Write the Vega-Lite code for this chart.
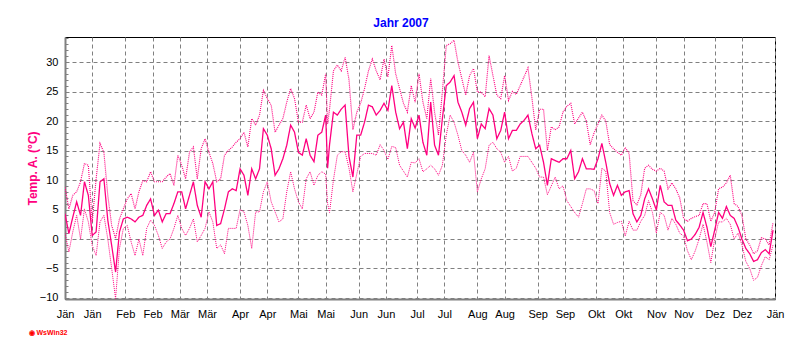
{
  "$schema": "https://vega.github.io/schema/vega-lite/v6.json",
  "width": 710,
  "height": 262,
  "autosize": "none",
  "padding": {"left": 65, "top": 37, "right": 25, "bottom": 51},
  "background": "white",
  "title": {"text": "Jahr 2007", "color": "#0000FF", "font": "Liberation Sans", "fontSize": 12, "fontWeight": "bold", "anchor": "middle", "dx": -19, "offset": 2},
  "data": {"values": [
    {"date": "2007-01-01", "mean": 4.3, "max": 8.8, "min": 1},
    {"date": "2007-01-03", "mean": 0.9, "max": 5.1, "min": -2.2},
    {"date": "2007-01-05", "mean": 3.7, "max": 7.4, "min": 1.2},
    {"date": "2007-01-07", "mean": 6.3, "max": 8.0, "min": 4},
    {"date": "2007-01-09", "mean": 4, "max": 9.7, "min": 0},
    {"date": "2007-01-11", "mean": 9.7, "max": 12.8, "min": 5.1},
    {"date": "2007-01-13", "mean": 7.4, "max": 12.5, "min": 2.9},
    {"date": "2007-01-15", "mean": 0.6, "max": 2.9, "min": -1.1},
    {"date": "2007-01-17", "mean": 1.2, "max": 10.2, "min": -2.8},
    {"date": "2007-01-19", "mean": 9.7, "max": 16.2, "min": 2.9},
    {"date": "2007-01-21", "mean": 10.2, "max": 14.7, "min": 4},
    {"date": "2007-01-23", "mean": 3.2, "max": 7.4, "min": 0},
    {"date": "2007-01-25", "mean": -1.1, "max": 2.3, "min": -5},
    {"date": "2007-01-27", "mean": -5.6, "max": 0.1, "min": -10.1},
    {"date": "2007-01-29", "mean": 1.2, "max": 3.4, "min": -1.6},
    {"date": "2007-01-31", "mean": 3.4, "max": 5.1, "min": 1.8},
    {"date": "2007-02-02", "mean": 3.7, "max": 6.8, "min": 2.3},
    {"date": "2007-02-04", "mean": 3.4, "max": 7.7, "min": -0.5},
    {"date": "2007-02-06", "mean": 2.9, "max": 5.1, "min": -2.8},
    {"date": "2007-02-08", "mean": 3.7, "max": 8, "min": 0},
    {"date": "2007-02-10", "mean": 4, "max": 9.9, "min": -2.8},
    {"date": "2007-02-12", "mean": 5.7, "max": 9.7, "min": 1.8},
    {"date": "2007-02-14", "mean": 6.8, "max": 11.4, "min": 3.2},
    {"date": "2007-02-16", "mean": 4, "max": 9.7, "min": 2.3},
    {"date": "2007-02-18", "mean": 4.9, "max": 9.7, "min": 0.6},
    {"date": "2007-02-20", "mean": 2.9, "max": 9.7, "min": -1.6},
    {"date": "2007-02-22", "mean": 4.3, "max": 10.5, "min": -0.5},
    {"date": "2007-02-24", "mean": 4.3, "max": 11.1, "min": 0},
    {"date": "2007-02-26", "mean": 6, "max": 9.1, "min": 1.8},
    {"date": "2007-02-28", "mean": 8, "max": 14.2, "min": 4},
    {"date": "2007-03-02", "mean": 8, "max": 12.5, "min": 1.8},
    {"date": "2007-03-04", "mean": 5.1, "max": 10.2, "min": 0.6},
    {"date": "2007-03-06", "mean": 7.4, "max": 14.7, "min": 1.8},
    {"date": "2007-03-08", "mean": 9.7, "max": 15.6, "min": 3.4},
    {"date": "2007-03-10", "mean": 5.7, "max": 10.2, "min": -0.5},
    {"date": "2007-03-12", "mean": 3.7, "max": 15.3, "min": 0.6},
    {"date": "2007-03-14", "mean": 9.7, "max": 17, "min": 1.8},
    {"date": "2007-03-16", "mean": 8.5, "max": 14.7, "min": 4.6},
    {"date": "2007-03-18", "mean": 9.7, "max": 12.8, "min": 2.9},
    {"date": "2007-03-20", "mean": 2.3, "max": 9.7, "min": -1.6},
    {"date": "2007-03-22", "mean": 2.6, "max": 10.2, "min": -1},
    {"date": "2007-03-24", "mean": 5.1, "max": 14.2, "min": -2.5},
    {"date": "2007-03-26", "mean": 8, "max": 15, "min": 1.8},
    {"date": "2007-03-28", "mean": 8.5, "max": 15.6, "min": 1.8},
    {"date": "2007-03-30", "mean": 8.2, "max": 16.4, "min": 1.8},
    {"date": "2007-04-01", "mean": 11.9, "max": 17, "min": 5},
    {"date": "2007-04-03", "mean": 10.8, "max": 18.1, "min": 4.6},
    {"date": "2007-04-05", "mean": 7.4, "max": 15.6, "min": 2.3},
    {"date": "2007-04-07", "mean": 11.9, "max": 20.4, "min": -1.6},
    {"date": "2007-04-09", "mean": 10.2, "max": 19.3, "min": 4.6},
    {"date": "2007-04-11", "mean": 11.9, "max": 21, "min": 4.6},
    {"date": "2007-04-13", "mean": 18.7, "max": 25.2, "min": 8},
    {"date": "2007-04-15", "mean": 17.6, "max": 23.8, "min": 9.7},
    {"date": "2007-04-17", "mean": 15.3, "max": 22.7, "min": 6.3},
    {"date": "2007-04-19", "mean": 10.8, "max": 18.1, "min": 4.6},
    {"date": "2007-04-21", "mean": 11.9, "max": 19.3, "min": 2.9},
    {"date": "2007-04-23", "mean": 13.6, "max": 20.4, "min": 3.4},
    {"date": "2007-04-25", "mean": 15.9, "max": 23.2, "min": 8},
    {"date": "2007-04-27", "mean": 19.3, "max": 25.5, "min": 11.4},
    {"date": "2007-04-29", "mean": 18.1, "max": 23.8, "min": 8.5},
    {"date": "2007-05-01", "mean": 14.7, "max": 19.8, "min": 6.3},
    {"date": "2007-05-03", "mean": 14.2, "max": 19.8, "min": 5.1},
    {"date": "2007-05-05", "mean": 17, "max": 22.7, "min": 10.2},
    {"date": "2007-05-07", "mean": 14.2, "max": 20.4, "min": 11.4},
    {"date": "2007-05-09", "mean": 13.1, "max": 21.5, "min": 9.1},
    {"date": "2007-05-11", "mean": 17.6, "max": 24.9, "min": 10.8},
    {"date": "2007-05-13", "mean": 18.1, "max": 24.4, "min": 11.4},
    {"date": "2007-05-15", "mean": 21, "max": 28, "min": 11},
    {"date": "2007-05-16", "mean": 12, "max": 19.5, "min": 6},
    {"date": "2007-05-17", "mean": 16, "max": 22, "min": 4.5},
    {"date": "2007-05-19", "mean": 21.5, "max": 28.5, "min": 10},
    {"date": "2007-05-21", "mean": 21, "max": 29.5, "min": 14.2},
    {"date": "2007-05-23", "mean": 22, "max": 28.5, "min": 14.8},
    {"date": "2007-05-25", "mean": 22.7, "max": 30.8, "min": 14.8},
    {"date": "2007-05-27", "mean": 14, "max": 27, "min": 12},
    {"date": "2007-05-29", "mean": 10.5, "max": 18.5, "min": 8},
    {"date": "2007-05-31", "mean": 17.6, "max": 21.5, "min": 11},
    {"date": "2007-06-02", "mean": 17.6, "max": 23, "min": 14},
    {"date": "2007-06-04", "mean": 19.8, "max": 25.5, "min": 14.5},
    {"date": "2007-06-06", "mean": 22.7, "max": 28.5, "min": 14.5},
    {"date": "2007-06-08", "mean": 22.4, "max": 30.5, "min": 14.5},
    {"date": "2007-06-10", "mean": 21, "max": 28.5, "min": 14.2},
    {"date": "2007-06-12", "mean": 21.8, "max": 27, "min": 16},
    {"date": "2007-06-14", "mean": 23, "max": 30.5, "min": 15},
    {"date": "2007-06-16", "mean": 21.8, "max": 27.5, "min": 13.5},
    {"date": "2007-06-18", "mean": 26, "max": 32.8, "min": 15.7},
    {"date": "2007-06-20", "mean": 21.5, "max": 28, "min": 15.5},
    {"date": "2007-06-22", "mean": 18.7, "max": 25.5, "min": 12.5},
    {"date": "2007-06-24", "mean": 19.8, "max": 23, "min": 11.5},
    {"date": "2007-06-26", "mean": 15.3, "max": 21.5, "min": 10.5},
    {"date": "2007-06-28", "mean": 20.4, "max": 26, "min": 13},
    {"date": "2007-06-30", "mean": 18.8, "max": 23.2, "min": 12.9},
    {"date": "2007-07-02", "mean": 21, "max": 28, "min": 13.6},
    {"date": "2007-07-04", "mean": 16.4, "max": 23.2, "min": 11.4},
    {"date": "2007-07-06", "mean": 14.2, "max": 20.4, "min": 11.9},
    {"date": "2007-07-08", "mean": 23.2, "max": 27.2, "min": 12.5},
    {"date": "2007-07-10", "mean": 15.9, "max": 21.5, "min": 11.9},
    {"date": "2007-07-12", "mean": 14.2, "max": 17.6, "min": 10.8},
    {"date": "2007-07-14", "mean": 20.4, "max": 25, "min": 12.5},
    {"date": "2007-07-16", "mean": 26, "max": 32.8, "min": 17.6},
    {"date": "2007-07-18", "mean": 26.6, "max": 33.1, "min": 21},
    {"date": "2007-07-20", "mean": 27.7, "max": 33.7, "min": 19.8},
    {"date": "2007-07-22", "mean": 23.2, "max": 30, "min": 17.6},
    {"date": "2007-07-24", "mean": 21.5, "max": 27.2, "min": 15},
    {"date": "2007-07-26", "mean": 19.3, "max": 24.4, "min": 14.2},
    {"date": "2007-07-28", "mean": 22.1, "max": 27.7, "min": 13},
    {"date": "2007-07-30", "mean": 23.2, "max": 28.9, "min": 14.7},
    {"date": "2007-08-01", "mean": 17, "max": 24.9, "min": 8},
    {"date": "2007-08-03", "mean": 19.5, "max": 24.9, "min": 10.2},
    {"date": "2007-08-05", "mean": 18.7, "max": 24.1, "min": 11.9},
    {"date": "2007-08-07", "mean": 22.1, "max": 31.1, "min": 15.9},
    {"date": "2007-08-09", "mean": 21, "max": 27.7, "min": 16.4},
    {"date": "2007-08-11", "mean": 17, "max": 24.4, "min": 15.3},
    {"date": "2007-08-13", "mean": 18.4, "max": 23.8, "min": 14.7},
    {"date": "2007-08-15", "mean": 21.5, "max": 27.7, "min": 13},
    {"date": "2007-08-17", "mean": 17, "max": 23.5, "min": 14},
    {"date": "2007-08-19", "mean": 18.4, "max": 25, "min": 11.5},
    {"date": "2007-08-21", "mean": 18.4, "max": 24.5, "min": 12},
    {"date": "2007-08-23", "mean": 19.5, "max": 26, "min": 14},
    {"date": "2007-08-25", "mean": 20.1, "max": 27.5, "min": 14},
    {"date": "2007-08-27", "mean": 21, "max": 29, "min": 14},
    {"date": "2007-08-29", "mean": 17.9, "max": 24, "min": 13},
    {"date": "2007-08-31", "mean": 15.3, "max": 18.5, "min": 12},
    {"date": "2007-09-02", "mean": 15.9, "max": 22, "min": 10.5},
    {"date": "2007-09-04", "mean": 13, "max": 22, "min": 10.5},
    {"date": "2007-09-06", "mean": 9.1, "max": 15, "min": 7.5},
    {"date": "2007-09-08", "mean": 13.6, "max": 19, "min": 9},
    {"date": "2007-09-10", "mean": 13.3, "max": 18.5, "min": 10.5},
    {"date": "2007-09-12", "mean": 13, "max": 19, "min": 8.5},
    {"date": "2007-09-14", "mean": 13.6, "max": 21.5, "min": 9},
    {"date": "2007-09-16", "mean": 13.6, "max": 22.5, "min": 6.5},
    {"date": "2007-09-18", "mean": 15, "max": 23, "min": 5.5},
    {"date": "2007-09-20", "mean": 10.2, "max": 19.5, "min": 4.5},
    {"date": "2007-09-22", "mean": 11.4, "max": 20.5, "min": 3.7},
    {"date": "2007-09-24", "mean": 13.6, "max": 21.5, "min": 6},
    {"date": "2007-09-26", "mean": 11.9, "max": 20, "min": 8.5},
    {"date": "2007-09-28", "mean": 11.9, "max": 16, "min": 8.5},
    {"date": "2007-09-30", "mean": 11.8, "max": 18, "min": 8.2},
    {"date": "2007-10-02", "mean": 13.6, "max": 19.5, "min": 6},
    {"date": "2007-10-04", "mean": 16.2, "max": 21, "min": 12},
    {"date": "2007-10-06", "mean": 13, "max": 20, "min": 11.5},
    {"date": "2007-10-08", "mean": 9.4, "max": 16, "min": 4.5},
    {"date": "2007-10-10", "mean": 7.4, "max": 15.3, "min": 2.5},
    {"date": "2007-10-12", "mean": 9.1, "max": 14.7, "min": 2.8},
    {"date": "2007-10-14", "mean": 7.4, "max": 14.2, "min": 3},
    {"date": "2007-10-16", "mean": 8, "max": 15.5, "min": 0.5},
    {"date": "2007-10-18", "mean": 8.2, "max": 14.5, "min": 3},
    {"date": "2007-10-20", "mean": 4.3, "max": 6.5, "min": 1.5},
    {"date": "2007-10-22", "mean": 2.9, "max": 5.8, "min": 1.5},
    {"date": "2007-10-24", "mean": 4, "max": 7.5, "min": 3},
    {"date": "2007-10-26", "mean": 6.8, "max": 12, "min": 4},
    {"date": "2007-10-28", "mean": 8.5, "max": 12.5, "min": 6.5},
    {"date": "2007-10-30", "mean": 6.8, "max": 11.8, "min": 4.5},
    {"date": "2007-11-01", "mean": 4.9, "max": 11.5, "min": 1},
    {"date": "2007-11-03", "mean": 9.1, "max": 12, "min": 4.5},
    {"date": "2007-11-05", "mean": 6.3, "max": 11.5, "min": 4},
    {"date": "2007-11-07", "mean": 5.7, "max": 8.5, "min": 1.5},
    {"date": "2007-11-09", "mean": 5.7, "max": 9.5, "min": 3.5},
    {"date": "2007-11-11", "mean": 3.2, "max": 8.5, "min": 2.5},
    {"date": "2007-11-13", "mean": 2.4, "max": 7, "min": 1},
    {"date": "2007-11-15", "mean": 1.5, "max": 3.5, "min": 0.5},
    {"date": "2007-11-17", "mean": -0.3, "max": 3, "min": -2},
    {"date": "2007-11-19", "mean": 0, "max": 3.5, "min": -3.5},
    {"date": "2007-11-21", "mean": 0.8, "max": 3.8, "min": -2},
    {"date": "2007-11-23", "mean": 2, "max": 4, "min": 0},
    {"date": "2007-11-25", "mean": 4.5, "max": 6, "min": 2.5},
    {"date": "2007-11-27", "mean": 2, "max": 6, "min": -0.5},
    {"date": "2007-11-29", "mean": -1.3, "max": 3, "min": -4},
    {"date": "2007-12-01", "mean": 1.5, "max": 4.5, "min": 0},
    {"date": "2007-12-03", "mean": 4.5, "max": 8.5, "min": 2.9},
    {"date": "2007-12-05", "mean": 3.5, "max": 8.8, "min": 2.9},
    {"date": "2007-12-07", "mean": 5.5, "max": 9.5, "min": 3.5},
    {"date": "2007-12-09", "mean": 4, "max": 10.8, "min": 2.5},
    {"date": "2007-12-11", "mean": 3.5, "max": 6, "min": 0},
    {"date": "2007-12-13", "mean": 2, "max": 5.5, "min": 1},
    {"date": "2007-12-15", "mean": 0, "max": 4, "min": -1},
    {"date": "2007-12-17", "mean": -1.6, "max": 0, "min": -3.8},
    {"date": "2007-12-19", "mean": -2.5, "max": -1, "min": -5},
    {"date": "2007-12-21", "mean": -3.8, "max": -2.5, "min": -7},
    {"date": "2007-12-23", "mean": -3.5, "max": -2, "min": -6.5},
    {"date": "2007-12-25", "mean": -2.3, "max": 0.2, "min": -4.5},
    {"date": "2007-12-27", "mean": -1.8, "max": 0, "min": -3},
    {"date": "2007-12-29", "mean": -2.5, "max": -1, "min": -3.5},
    {"date": "2007-12-31", "mean": 1.5, "max": 2.8, "min": -1}
  ]},
  "transform": [{"fold": ["mean", "max", "min"], "as": ["series", "value"]}],
  "mark": {"type": "line", "color": "#FF0080", "interpolate": "linear", "clip": true},
  "encoding": {
    "x": {
      "field": "date", "type": "temporal",
      "scale": {"type": "utc", "domain": [{"year": 2007, "month": 1, "date": 1, "utc": true}, {"year": 2008, "month": 1, "date": 1, "utc": true}]},
      "axis": {
        "values": [
          {"year": 2007, "month": 1, "date": 1, "utc": true}, {"year": 2007, "month": 1, "date": 15, "utc": true},
          {"year": 2007, "month": 2, "date": 1, "utc": true}, {"year": 2007, "month": 2, "date": 15, "utc": true},
          {"year": 2007, "month": 3, "date": 1, "utc": true}, {"year": 2007, "month": 3, "date": 15, "utc": true},
          {"year": 2007, "month": 4, "date": 1, "utc": true}, {"year": 2007, "month": 4, "date": 15, "utc": true},
          {"year": 2007, "month": 5, "date": 1, "utc": true}, {"year": 2007, "month": 5, "date": 15, "utc": true},
          {"year": 2007, "month": 6, "date": 1, "utc": true}, {"year": 2007, "month": 6, "date": 15, "utc": true},
          {"year": 2007, "month": 7, "date": 1, "utc": true}, {"year": 2007, "month": 7, "date": 15, "utc": true},
          {"year": 2007, "month": 8, "date": 1, "utc": true}, {"year": 2007, "month": 8, "date": 15, "utc": true},
          {"year": 2007, "month": 9, "date": 1, "utc": true}, {"year": 2007, "month": 9, "date": 15, "utc": true},
          {"year": 2007, "month": 10, "date": 1, "utc": true}, {"year": 2007, "month": 10, "date": 15, "utc": true},
          {"year": 2007, "month": 11, "date": 1, "utc": true}, {"year": 2007, "month": 11, "date": 15, "utc": true},
          {"year": 2007, "month": 12, "date": 1, "utc": true}, {"year": 2007, "month": 12, "date": 15, "utc": true},
          {"year": 2008, "month": 1, "date": 1, "utc": true}
        ],
        "labelExpr": "['Jän','Feb','Mär','Apr','Mai','Jun','Jul','Aug','Sep','Okt','Nov','Dez'][utcmonth(datum.value)]",
        "labelFlush": false, "labelOverlap": false, "labelBound": false,
        "labelPadding": 9, "ticks": false,
        "grid": true, "gridColor": "#808080", "gridDash": [4, 3], "gridWidth": 1,
        "domainColor": "#808080", "domainWidth": 2,
        "title": "◉ WsWin32", "titleColor": "#FF0000", "titleFont": "Liberation Sans", "titleFontSize": 7, "titleFontWeight": "bold",
        "titleAnchor": "start", "titleAlign": "left", "titleBaseline": "middle", "titleX": -37, "titleY": 33
      }
    },
    "y": {
      "field": "value", "type": "quantitative",
      "scale": {"domain": [-10.17, 34.24], "nice": false, "zero": false},
      "axis": {
        "values": [-10, -9, -8, -7, -6, -5, -4, -3, -2, -1, 0, 1, 2, 3, 4, 5, 6, 7, 8, 9, 10, 11, 12, 13, 14, 15, 16, 17, 18, 19, 20, 21, 22, 23, 24, 25, 26, 27, 28, 29, 30, 31, 32, 33, 34],
        "labelExpr": "datum.value % 5 === 0 ? datum.label : ''",
        "labelOverlap": false, "labelBound": false, "labelFlush": false,
        "ticks": true, "tickSize": -3, "tickColor": "#808080", "labelPadding": 10,
        "grid": true, "gridColor": "#808080", "gridDash": [4, 3], "gridWidth": 1,
        "gridOpacity": {"condition": {"test": "datum.value % 5 === 0", "value": 1}, "value": 0},
        "domainColor": "#808080", "domainWidth": 2,
        "title": "Temp. A. (°C)", "titleColor": "#FF0080", "titleFont": "Liberation Sans", "titleFontSize": 12, "titleFontWeight": "bold", "titlePadding": 0
      }
    },
    "detail": {"field": "series"},
    "strokeDash": {"field": "series", "type": "nominal", "scale": {"domain": ["mean", "max", "min"], "range": [[1, 0], [1, 1], [1, 1]]}, "legend": null},
    "strokeWidth": {"field": "series", "type": "nominal", "scale": {"domain": ["mean", "max", "min"], "range": [1.3, 1, 1]}, "legend": null}
  },
  "config": {
    "view": {"stroke": "black", "strokeWidth": 1},
    "axis": {"labelFont": "Liberation Sans", "labelFontSize": 11, "labelColor": "black"}
  }
}
